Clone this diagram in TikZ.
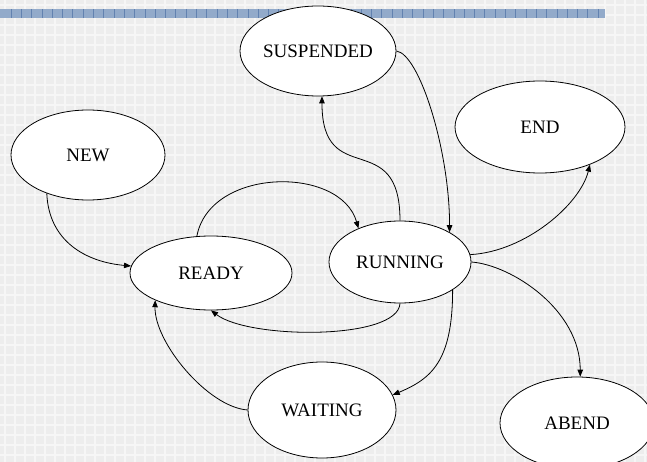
\documentclass[tikz,border=0pt]{standalone}
\usepackage{fontspec}
\setmainfont{Liberation Serif}
\usetikzlibrary{shapes.geometric,arrows.meta}
\definecolor{paper}{RGB}{237,237,237}
\definecolor{paperline}{RGB}{246,246,246}
\definecolor{bandblue}{RGB}{146,170,202}
\definecolor{bandline}{RGB}{98,130,176}
\begin{document}
\begin{tikzpicture}[x=1pt,y=-1pt,
  state/.style={ellipse,draw,line width=0.8pt,fill=white,inner sep=0pt,
    font=\fontsize{19}{21}\selectfont},
  trans/.style={line width=0.8pt,-{Triangle[length=7pt,width=5.5pt]}}]
\useasboundingbox (0,0) rectangle (647,462);
\clip (0,0) rectangle (647,462);
% squared paper
\fill[paper] (0,0) rectangle (647,462);
\foreach \x in {5,15,...,645} \draw[paperline,line width=1.2pt] (\x,0) -- (\x,462);
\foreach \y in {5,15,...,460} \draw[paperline,line width=1.2pt] (0,\y) -- (647,\y);
% header band
\fill[bandblue] (0,9.5) rectangle (605,18.5);
\foreach \x in {11,21.3,...,600} \draw[bandline,line width=0.8pt] (\x,9.5) -- (\x,18.5);

% states
\node[state,minimum width=156pt,minimum height=90pt] (susp)  at (318,51)  {SUSPENDED};
\node[state,minimum width=154pt,minimum height=90pt] (new)   at (88,155)  {NEW};
\node[state,minimum width=170pt,minimum height=92pt] (end)   at (540,127) {END};
\node[state,minimum width=162pt,minimum height=74pt] (ready) at (211,273) {READY};
\node[state,minimum width=142pt,minimum height=82pt] (run)   at (400,262) {RUNNING};
\node[state,minimum width=148pt,minimum height=96pt] (wait)  at (322,410) {WAITING};
\node[state,minimum width=154pt,minimum height=92pt] (abend) at (577,423) {ABEND};

% transitions
\draw[trans] (new.223)  .. controls +(2,48)   and +(-45,-4) .. (ready.175);
\draw[trans] (ready.111) .. controls +(13,-69) and +(-18,-63) .. (run.141);
\draw[trans] (run.90)   .. controls +(0,-95)  and +(0,95)    .. (susp.275);
\draw[trans] (susp.0)   .. controls +(23,3)   and +(0,-82)   .. (run.31);
\draw[trans] (run.6)    .. controls +(55,-3)  and +(-10,40)  .. (end.-37);
\draw[trans] (run.0)    .. controls +(40,3)   and +(0,-67)   .. (abend.86);
\draw[trans] (run.-28)  .. controls +(0,72)   and +(38,-16)  .. (wait.12.5);
\draw[trans] (run.270)  .. controls +(-2,37)  and +(38,29)   .. (ready.270);
\draw[trans] (wait.180) .. controls +(-40,-3) and +(-1,42)   .. (ready.206);
\end{tikzpicture}
\end{document}
